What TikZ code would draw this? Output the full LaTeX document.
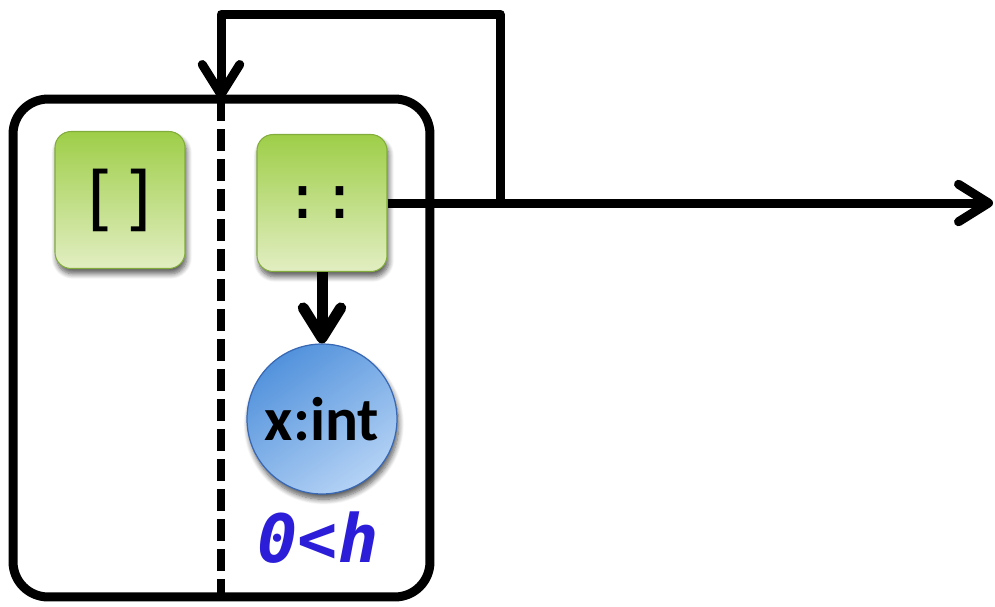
\documentclass[tikz,border=0pt]{standalone}
\usepackage{fontspec}
\usetikzlibrary{arrows.meta,shadows,shadows.blur}
\newfontfamily\codefont{DejaVu Sans Mono}
\newfontfamily\labelfont{Carlito}

\definecolor{greenTop}{RGB}{158,206,72}
\definecolor{greenBot}{RGB}{226,238,194}
\definecolor{greenEdge}{RGB}{130,172,60}
\definecolor{blueDark}{RGB}{82,146,220}
\definecolor{blueLight}{RGB}{180,210,245}
\definecolor{blueEdge}{RGB}{56,104,180}
\definecolor{guardBlue}{RGB}{44,30,216}

\tikzset{
  wire/.style={line width=0.18cm, line join=round},
  heavywire/.style={line width=0.22cm, line join=round},
  arrowtip/.style={-{Straight Barb[round,length=0.6cm,width=0.75cm]}},
  frame/.style={draw, line width=0.18cm, rounded corners=0.7cm,
    minimum width=8.34cm, minimum height=9.96cm},
  divider/.style={line width=0.17cm, dash pattern=on 0.44cm off 0.16cm},
  softshadow/.style={blur shadow={shadow blur steps=8, shadow xshift=1pt,
    shadow yshift=-3pt, shadow opacity=65, shadow blur radius=3pt}},
  ctor/.style={draw=greenEdge, line width=0.6pt, rounded corners=0.32cm,
    top color=greenTop, bottom color=greenBot,
    minimum width=2.6cm, minimum height=2.74cm, inner sep=0pt,
    softshadow},
  value/.style={circle, draw=blueEdge, line width=0.7pt,
    top color=blueDark, bottom color=blueLight, shading angle=35,
    minimum size=3cm, inner sep=0pt, softshadow,
    font=\labelfont\bfseries\fontsize{35}{35}\selectfont},
  guard/.style={text=guardBlue, inner sep=0pt,
    font=\codefont\bfseries\itshape\fontsize{38}{38}\selectfont}
}

\begin{document}
\begin{tikzpicture}[x=0.02cm, y=-0.02cm]
  \useasboundingbox (0,0) rectangle (995,606);

  % enclosing case box and the divider between its two branches
  \node[frame] (frame) at (221.5,348) {};
  \coordinate (divTop) at (221,99);
  \coordinate (divBot) at (221,597);
  \draw[divider] (divTop) -- (divBot);

  % constructors
  \node[ctor, font=\codefont\fontsize{40}{40}\selectfont] (nil) at (120,200) {[]};
  \node[ctor, font=\codefont\fontsize{35}{35}\selectfont] (cons) at (322,203) {::};

  % head value and its guard
  \node[value] (head) at (322,419) {x:int};
  \node[guard] (cond) at (318,538) {0<h};

  % connectors
  \coordinate (loopR) at (500,203);
  \coordinate (loopTL) at (221,14);
  \coordinate (outEnd) at (993,203);

  \draw[heavywire, arrowtip] (cons.south) -- (head.north);
  \draw[wire, arrowtip] (cons.east) -- (loopR) |- (loopTL) -- (divTop);
  \draw[wire, arrowtip] (cons.east) -- (outEnd);
\end{tikzpicture}
\end{document}
